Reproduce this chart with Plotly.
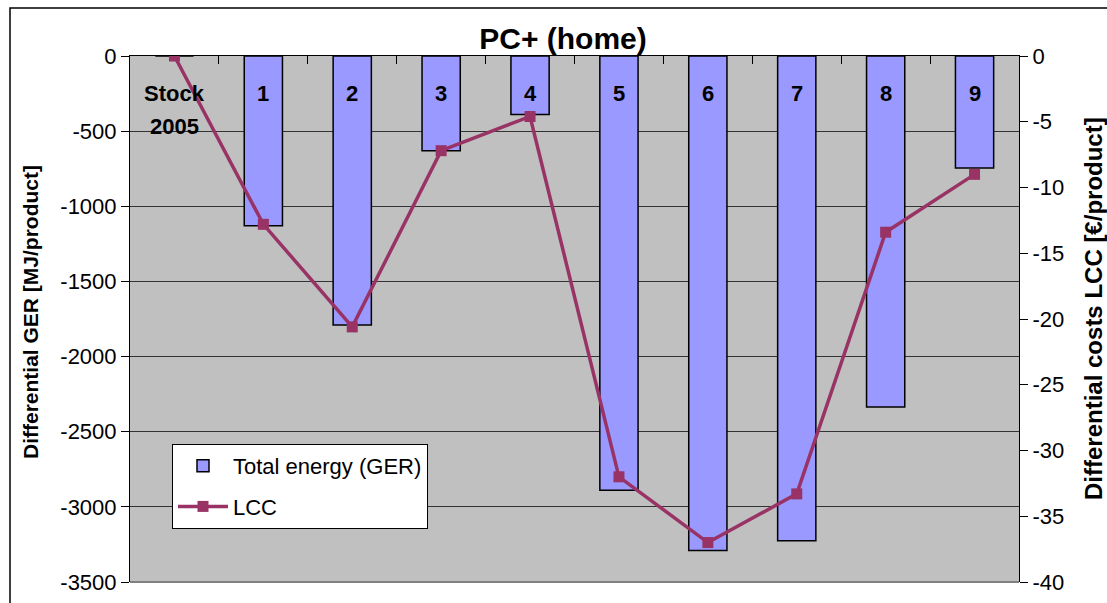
import plotly.graph_objects as go

categories = ["Stock\n2005", "1", "2", "3", "4", "5", "6", "7", "8", "9"]
ger_values = [0, -1130, -1790, -630, -390, -2890, -3290, -3225, -2335, -745]
lcc_values = [0, -12.8, -20.6, -7.2, -4.6, -32.0, -37.0, -33.3, -13.4, -9.0]
left_ticks = [0, -500, -1000, -1500, -2000, -2500, -3000, -3500]
right_ticks = [0, -5, -10, -15, -20, -25, -30, -35, -40]

FONT = "Arial, Liberation Sans, sans-serif"
x_keys = [c.replace("\n", " ") for c in categories]

fig = go.Figure()
fig.add_trace(go.Bar(
    x=x_keys, y=ger_values, name="Total energy (GER)", legendgroup="g1",
    marker=dict(color="#9999FF", line=dict(color="black", width=1.5)),
    width=0.43,
))
fig.add_trace(go.Scatter(
    x=x_keys, y=lcc_values, name="LCC", yaxis="y2", mode="lines+markers",
    legendgroup="g2",
    line=dict(color="#993366", width=3.5),
    marker=dict(symbol="square", size=11, color="#993366"),
))

annotations = []
for key, cat in zip(x_keys, categories):
    for i, line in enumerate(cat.split("\n")):
        annotations.append(dict(
            x=key, xref="x", y=1, yref="paper", yanchor="middle",
            yshift=-37 - 33 * i, text="<b>%s</b>" % line, showarrow=False,
            font=dict(family=FONT, size=22, color="black"),
        ))
annotations.append(dict(
    x=(30 - 130) / 889, y=(582 - 312) / 526, xref="paper", yref="paper",
    xanchor="center", yanchor="middle",
    text="<b>Differential GER [MJ/product]</b>", textangle=-90, showarrow=False,
    font=dict(family=FONT, size=21, color="black"),
))
annotations.append(dict(
    x=(1093 - 130) / 889, y=(582 - 309) / 526, xref="paper", yref="paper",
    xanchor="center", yanchor="middle",
    text="<b>Differential costs LCC [€/product]</b>", textangle=-90, showarrow=False,
    font=dict(family=FONT, size=24, color="black"),
))

shapes = [
    dict(type="rect", xref="paper", yref="paper",
         x0=(10 - 130) / 889, x1=(1115 - 130) / 889, y0=-0.2, y1=(582 - 8) / 526,
         line=dict(color="black", width=1.5), fillcolor="rgba(0,0,0,0)", layer="below"),
    dict(type="line", xref="paper", yref="paper", x0=0, x1=1, y0=0, y1=0,
         line=dict(color="#808080", width=2)),
]

fig.update_layout(
    width=1107, height=603,
    margin=dict(l=130, r=88, t=56, b=21, autoexpand=False),
    paper_bgcolor="white", plot_bgcolor="#C0C0C0",
    font=dict(family=FONT, size=22, color="black"),
    title=dict(text="<b>PC+ (home)</b>", x=563 / 1107, xanchor="center",
               y=1 - 38 / 603, yanchor="middle", automargin=False,
               font=dict(family=FONT, size=30, color="black")),
    xaxis=dict(type="category", side="top", showticklabels=False,
               ticks="inside", tickson="boundaries", ticklen=8,
               tickcolor="black", showline=True, linecolor="black", linewidth=1,
               showgrid=False, zeroline=False, range=[-0.5, 9.5],
               automargin=False),
    yaxis=dict(range=[-3500, 0], tickvals=left_ticks,
               ticktext=[str(v) for v in left_ticks], ticks="outside",
               ticklen=8, tickcolor="black", showline=True, linecolor="black",
               linewidth=1, showgrid=True, gridcolor="#333333", gridwidth=1,
               zeroline=False, tickfont=dict(size=22), automargin=False),
    yaxis2=dict(range=[-40, 0], tickvals=right_ticks,
                ticktext=[str(v) for v in right_ticks], overlaying="y",
                side="right", ticks="outside", ticklen=8, tickcolor="black",
                showline=True, linecolor="black", linewidth=1, showgrid=False,
                zeroline=False, tickfont=dict(size=22), automargin=False),
    legend=dict(x=(172 - 130) / 889, y=(582 - 444) / 526, xanchor="left",
                yanchor="top", bgcolor="white", bordercolor="black",
                borderwidth=1, font=dict(family=FONT, size=22),
                itemwidth=50, traceorder="grouped", tracegroupgap=9),
    annotations=annotations, shapes=shapes, bargap=0.57,
    showlegend=True,
)

fig.write_html("out.html", config={"displayModeBar": False},
               post_script="document.body.style.margin='0';"
                           "document.body.style.overflow='hidden';")
